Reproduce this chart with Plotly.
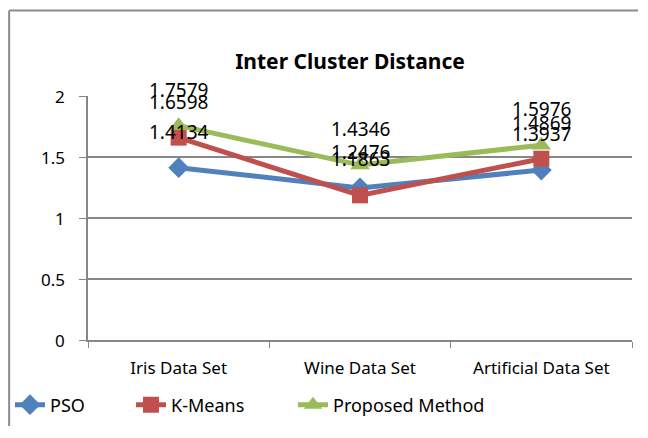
import plotly.graph_objects as go

datasets = ["Iris Data Set", "Wine Data Set", "Artificial Data Set"]
pso = [1.4134, 1.2476, 1.3937]
kmeans = [1.6598, 1.1863, 1.4869]
proposed = [1.7579, 1.4346, 1.5976]
y_ticks = [0, 0.5, 1, 1.5, 2]
y_labels = ["0", "0.5", "1", "1.5", "2"]

series = [
    ("PSO", pso, "#4F81BD", "diamond", 16, "legend"),
    ("K-Means", kmeans, "#C0504D", "square", 16, "legend2"),
    ("Proposed Method", proposed, "#9BBB59", "triangle-up", 17, "legend3"),
]

fnt = "Noto Sans"
W, H = 630, 418

fig = go.Figure()
for name, vals, col, sym, sz, lg in series:
    fig.add_trace(go.Scatter(
        x=datasets, y=vals, name=name, mode="lines+markers",
        line=dict(color=col, width=5),
        marker=dict(symbol=sym, size=sz, color=col),
        legend=lg,
    ))
    # excel-style data labels, floating well above each point
    for cat, v in zip(datasets, vals):
        fig.add_annotation(x=cat, y=v, text=f"{v:.4f}", showarrow=False,
                           yshift=36, font=dict(family=fnt, size=19, color="black"))

# y tick labels sit further from the axis than plotly puts them
for v, lab in zip(y_ticks, y_labels):
    fig.add_annotation(xref="paper", x=-0.0386, xanchor="right", y=v, yref="y",
                       text=lab, showarrow=False,
                       font=dict(family=fnt, size=17, color="black"))

# outer chart border (only left and top are visible in the crop)
fig.add_shape(type="line", xref="paper", yref="paper",
              x0=-0.145, x1=-0.145, y0=-0.5, y1=1.35,
              line=dict(color="#8c8c8c", width=2))
fig.add_shape(type="line", xref="paper", yref="paper",
              x0=-0.145, x1=1.1, y0=1.35, y1=1.35,
              line=dict(color="#8c8c8c", width=2))


def leg(px):
    return dict(orientation="h", xref="container", yref="container",
                x=px / W, xanchor="left", y=21 / H, yanchor="middle",
                font=dict(family=fnt, size=18), bgcolor="rgba(0,0,0,0)")


# page body adds an 8px margin, so the figure is kept inside the window
fig.update_layout(
    width=W, height=H,
    margin=dict(l=80, r=6, t=88, b=86),
    paper_bgcolor="white", plot_bgcolor="white",
    title=dict(text="<b>Inter Cluster Distance</b>", x=342 / W, xanchor="center",
               y=1 - 54 / H, yanchor="middle",
               font=dict(family=fnt, size=21, color="black")),
    font=dict(family=fnt, size=17, color="black"),
    showlegend=True,
    legend=leg(2),
    legend2=leg(123),
    legend3=leg(285),
    xaxis=dict(type="category", range=[-0.5, 2.5], showgrid=False, showline=True,
               linecolor="#878787", linewidth=1.5, ticks="outside", tickson="boundaries",
               ticklen=6, tickcolor="#878787", ticklabelstandoff=12, automargin=False,
               tickfont=dict(family=fnt, size=17)),
    yaxis=dict(range=[0, 2.001], tickvals=y_ticks, showgrid=True, gridcolor="#878787",
               gridwidth=1.5, showline=True, linecolor="#878787", linewidth=1.5,
               ticks="outside", ticklen=7, tickcolor="#878787", zeroline=False,
               showticklabels=False, automargin=False),
)

fig.write_html("out.html")
